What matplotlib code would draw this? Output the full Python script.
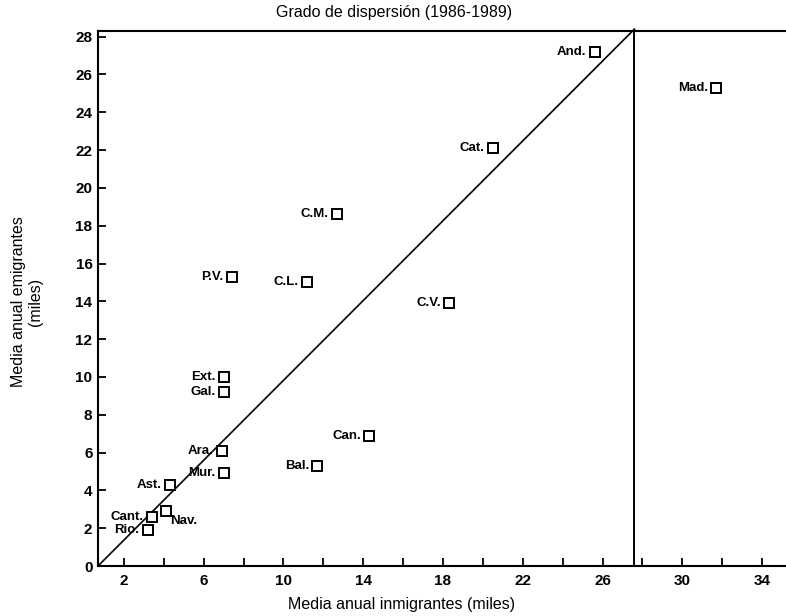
import matplotlib
matplotlib.use("Agg")
import matplotlib.pyplot as plt

# regions: mean yearly immigrants vs emigrants (thousands), 1986-1989
regions = ["And.", "Mad.", "Cat.", "C.M.", "P.V.", "C.L.", "C.V.", "Ext.", "Gal.",
           "Ara.", "Mur.", "Can.", "Bal.", "Ast.", "Nav.", "Cant.", "Rio."]
inmigrantes = [25.6, 31.7, 20.5, 12.7, 7.4, 11.2, 18.3, 7.0, 7.0,
               6.9, 7.0, 14.3, 11.7, 4.3, 4.1, 3.4, 3.2]
emigrantes = [27.2, 25.3, 22.1, 18.6, 15.3, 15.0, 13.9, 10.0, 9.2,
              6.1, 4.9, 6.9, 5.3, 4.3, 2.9, 2.6, 1.9]

x_ticks = list(range(2, 36, 2))
x_ticklabels = [str(t) if t % 4 == 2 else "" for t in x_ticks]
y_ticks = list(range(0, 30, 2))

# reference lines as drawn in the original
diag_x = [0.7, 27.6]
diag_y = [0.0, 28.4]
vline_x = 27.6

plt.rcParams['font.family'] = ['Liberation Sans', 'DejaVu Sans']

fig = plt.figure(figsize=(7.86, 6.16), dpi=100)
ax = fig.add_axes([98 / 786, 50 / 616, 1 - 98 / 786, 535 / 616])

ax.plot(inmigrantes, emigrantes, linestyle="none", marker="s", markersize=6.5,
        markerfacecolor="white", markeredgecolor="black", markeredgewidth=1.4,
        zorder=3)

for name, xv, yv in zip(regions, inmigrantes, emigrantes):
    if name == "Nav.":
        ax.annotate(name, (xv, yv), xytext=(3, -7), textcoords="offset points",
                    ha="left", va="center", fontsize=9.5, fontweight="heavy")
    else:
        ax.annotate(name, (xv, yv), xytext=(-6, 0), textcoords="offset points",
                    ha="right", va="center", fontsize=9.5, fontweight="heavy")

ax.plot(diag_x, diag_y, color="black", linewidth=1.2, clip_on=False)
ax.axvline(vline_x, color="black", linewidth=1.4)

ax.set_xlim(0.7, 35.2)
ax.set_ylim(0, 28.3)
ax.set_xticks(x_ticks)
ax.set_xticklabels(x_ticklabels)
ax.set_yticks(y_ticks)

ax.spines["right"].set_visible(False)
for s in ["left", "bottom", "top"]:
    ax.spines[s].set_linewidth(1.5)
ax.tick_params(direction="in", length=6, width=1.3, labelsize=11, pad=4)
ax.tick_params(axis="x", pad=6)
for lbl in ax.get_xticklabels() + ax.get_yticklabels():
    lbl.set_fontweight("bold")

fig.text(394 / 786, 1 - 12 / 616, "Grado de dispersión (1986-1989)",
         ha="center", va="center", fontsize=11.5)
fig.text(402 / 786, 1 - 604 / 616, "Media anual inmigrantes (miles)",
         ha="center", va="center", fontsize=11.5)
fig.text(27 / 786, 1 - 302 / 616, "Media anual emigrantes\n(miles)",
         ha="center", va="center", rotation=90, fontsize=11.5,
         multialignment="center", linespacing=1.1)

fig.savefig("out.png", dpi=100)
